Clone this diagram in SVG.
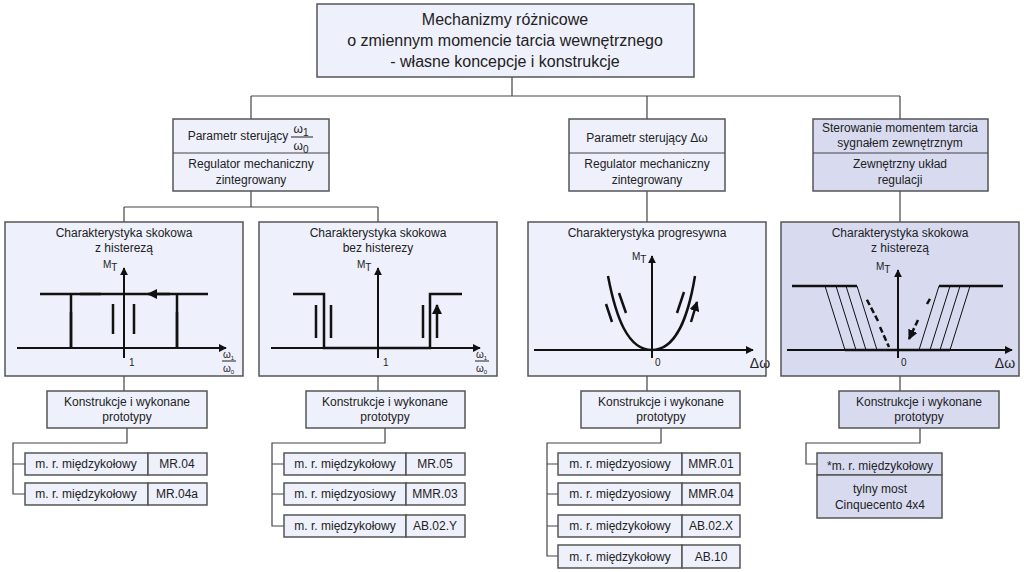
<svg xmlns="http://www.w3.org/2000/svg" width="1024" height="572" viewBox="0 0 1024 572">
<defs>
<style>
.b{fill:#eef0fb;stroke:#555;stroke-width:1.5}
.d{fill:#d8dbf0;stroke:#555;stroke-width:1.5}
.c{fill:none;stroke:#444;stroke-width:1.2}
.t{font-family:"Liberation Sans",Arial,sans-serif;font-size:12px;fill:#222;text-anchor:middle}
.s{font-family:"Liberation Sans",Arial,sans-serif;font-size:10px;fill:#222}
.ax{fill:none;stroke:#111;stroke-width:2;marker-end:url(#ah)}
.k{fill:none;stroke:#111;stroke-width:2.5}
.thin{fill:none;stroke:#111;stroke-width:1}
.ar{fill:none;stroke:#111;stroke-width:2.5;marker-end:url(#ah)}
</style>
<marker id="ah" viewBox="0 0 10 10" refX="9" refY="5" markerWidth="4" markerHeight="4" orient="auto"><path d="M0,0L10,5L0,10z" fill="#111"/></marker>
</defs>
<g id="connectors" class="c">
<path d="M512,77V96M251,96H900M251,96V119M647,96V119M900,96V119"/>
<path d="M251,191V207M124,207H378M124,207V222M378,207V222M647,191V222M900,191V222"/>
<path d="M124,376V391M378,376V391M647,376V391M900,376V391"/>
<path d="M127,428V443H13V494H25M13,464H25"/>
<path d="M385,428V443H272V526H284M272,464H284M272,494H284"/>
<path d="M661,428V443H547V556H558M547,464H558M547,494H558M547,526H558"/>
<path d="M920,428V443H806V464H817"/>
</g>
<g id="title"><rect class="b" x="317" y="4" width="377" height="73"/>
<text class="t" style="font-size:16px" x="505" y="25">Mechanizmy różnicowe</text>
<text class="t" style="font-size:16px" x="505" y="46">o zmiennym momencie tarcia wewnętrznego</text>
<text class="t" style="font-size:16px" x="505" y="67">- własne koncepcje i konstrukcje</text></g>
<g id="boxA"><rect class="b" x="173" y="119" width="156" height="72"/><line class="c" x1="173" y1="153" x2="329" y2="153"/>
<text class="t" x="238" y="140">Parametr sterujący</text>
<text class="t" x="301" y="133">ω<tspan class="s" dy="3">1</tspan></text><line x1="291" y1="137" x2="313" y2="137" stroke="#222"/>
<text class="t" x="301" y="150">ω<tspan class="s" dy="3">0</tspan></text>
<text class="t" x="251" y="168">Regulator mechaniczny</text><text class="t" x="251" y="184">zintegrowany</text></g>
<g id="boxB"><rect class="b" x="569" y="119" width="156" height="72"/><line class="c" x1="569" y1="153" x2="725" y2="153"/>
<text class="t" x="647" y="142">Parametr sterujący Δω</text>
<text class="t" x="647" y="168">Regulator mechaniczny</text><text class="t" x="647" y="184">zintegrowany</text></g>
<g id="boxC"><rect class="d" x="813" y="119" width="175" height="72"/><line class="c" x1="813" y1="153" x2="988" y2="153"/>
<text class="t" x="900" y="132">Sterowanie momentem tarcia</text><text class="t" x="900" y="147">sygnałem zewnętrznym</text>
<text class="t" x="900" y="168">Zewnętrzny układ</text><text class="t" x="900" y="184">regulacji</text></g>
<g id="chart1"><rect class="b" x="5" y="222" width="238" height="154"/>
<text class="t" x="124" y="237">Charakterystyka skokowa</text><text class="t" x="124" y="252">z histerezą</text>
<path class="ax" d="M17,348H226"/><path class="ax" d="M124,358V268"/>
<text class="s" x="103" y="268">M<tspan dy="3">T</tspan></text>
<path class="k" d="M40,294H208M71,294V348M177,294V348"/>
<path class="ar" d="M71,348V312M177,348V312M113,304V334M134,304V334M80,294H101M170,294H148"/>
<text class="s" x="129" y="366">1</text>
<text class="s" x="223" y="358">ω<tspan dy="2" font-size="6">1</tspan></text><line x1="222" y1="361" x2="236" y2="361" stroke="#222"/><text class="s" x="223" y="372">ω<tspan dy="2" font-size="6">0</tspan></text></g>
<g id="chart2"><rect class="b" x="259" y="222" width="238" height="154"/>
<text class="t" x="378" y="237">Charakterystyka skokowa</text><text class="t" x="378" y="252">bez histerezy</text>
<path class="ax" d="M271,348H480"/><path class="ax" d="M378,358V268"/>
<text class="s" x="357" y="268">M<tspan dy="3">T</tspan></text>
<path class="k" d="M293,294H324V348H430V294H462"/>
<path class="ar" d="M316,338V305M331,305V338M423,305V338M437,338V305"/>
<text class="s" x="383" y="366">1</text>
<text class="s" x="476" y="358">ω<tspan dy="2" font-size="6">1</tspan></text><line x1="475" y1="361" x2="489" y2="361" stroke="#222"/><text class="s" x="476" y="372">ω<tspan dy="2" font-size="6">0</tspan></text></g>
<g id="chart3"><rect class="b" x="528" y="222" width="238" height="154"/>
<text class="t" x="647" y="237">Charakterystyka progresywna</text>
<path class="ax" d="M534,350H753"/><path class="ax" d="M652,358V256"/>
<text class="s" x="632" y="260">M<tspan dy="3">T</tspan></text>
<path class="k" d="M608,276C616,318 628,350 652,350C676,350 688,318 695,276"/>
<path class="ar" d="M612,322L606,304M619,293L626,313M684,292L677,313M691,322L697,302"/>
<text class="s" x="655" y="366">0</text><text class="t" style="font-size:14px" x="760" y="368">Δω</text></g>
<g id="chart4"><rect class="d" x="781" y="222" width="238" height="154"/>
<text class="t" x="900" y="237">Charakterystyka skokowa</text><text class="t" x="900" y="252">z histerezą</text>
<path class="ax" d="M787,350H1012"/><path class="ax" d="M898,358V270"/>
<text class="s" x="876" y="270">M<tspan dy="3">T</tspan></text>
<path class="k" d="M792,286H857M939,286H1003M845,350H950"/>
<path class="thin" d="M825,286L845,350M836,286L856,350M846,286L866,350M857,286L877,350M939,286L919,350M950,286L930,350M960,286L940,350M970,286L950,350"/>
<path class="ar" d="M878,321L866,298M880,327L889,347M927,304L931,297M918,320L909,339" stroke-dasharray="6 3"/>
<text class="s" x="901" y="366">0</text><text class="t" style="font-size:14px" x="1005" y="368">Δω</text></g>
<g id="k1"><rect class="b" x="47" y="391" width="160" height="37"/><text class="t" x="127" y="406">Konstrukcje i wykonane</text><text class="t" x="127" y="421">prototypy</text></g>
<g id="k2"><rect class="b" x="306" y="391" width="159" height="37"/><text class="t" x="385" y="406">Konstrukcje i wykonane</text><text class="t" x="385" y="421">prototypy</text></g>
<g id="k3"><rect class="b" x="581" y="391" width="159" height="37"/><text class="t" x="661" y="406">Konstrukcje i wykonane</text><text class="t" x="661" y="421">prototypy</text></g>
<g id="k4"><rect class="d" x="839" y="391" width="160" height="37"/><text class="t" x="919" y="406">Konstrukcje i wykonane</text><text class="t" x="919" y="421">prototypy</text></g>
<g id="g1">
<rect class="b" x="25" y="453" width="123" height="22"/><rect class="b" x="148" y="453" width="59" height="22"/><text class="t" x="86" y="468">m. r. międzykołowy</text><text class="t" x="177" y="468">MR.04</text>
<rect class="b" x="25" y="483" width="123" height="22"/><rect class="b" x="148" y="483" width="59" height="22"/><text class="t" x="86" y="498">m. r. międzykołowy</text><text class="t" x="177" y="498">MR.04a</text></g>
<g id="g2">
<rect class="b" x="284" y="453" width="122" height="22"/><rect class="b" x="406" y="453" width="59" height="22"/><text class="t" x="345" y="468">m. r. międzykołowy</text><text class="t" x="435" y="468">MR.05</text>
<rect class="b" x="284" y="483" width="122" height="22"/><rect class="b" x="406" y="483" width="59" height="22"/><text class="t" x="345" y="498">m. r. międzyosiowy</text><text class="t" x="435" y="498">MMR.03</text>
<rect class="b" x="284" y="515" width="122" height="22"/><rect class="b" x="406" y="515" width="59" height="22"/><text class="t" x="345" y="530">m. r. międzykołowy</text><text class="t" x="435" y="530">AB.02.Y</text></g>
<g id="g3">
<rect class="b" x="558" y="453" width="124" height="22"/><rect class="b" x="682" y="453" width="58" height="22"/><text class="t" x="620" y="468">m. r. międzyosiowy</text><text class="t" x="711" y="468">MMR.01</text>
<rect class="b" x="558" y="483" width="124" height="22"/><rect class="b" x="682" y="483" width="58" height="22"/><text class="t" x="620" y="498">m. r. międzyosiowy</text><text class="t" x="711" y="498">MMR.04</text>
<rect class="b" x="558" y="515" width="124" height="22"/><rect class="b" x="682" y="515" width="58" height="22"/><text class="t" x="620" y="530">m. r. międzykołowy</text><text class="t" x="711" y="530">AB.02.X</text>
<rect class="b" x="558" y="545" width="124" height="23"/><rect class="b" x="682" y="545" width="58" height="23"/><text class="t" x="620" y="561">m. r. międzykołowy</text><text class="t" x="711" y="561">AB.10</text></g>
<g id="g4"><rect class="d" x="817" y="453" width="125" height="22"/><rect class="d" x="817" y="475" width="125" height="43"/>
<text class="t" x="880" y="470">*m. r. międzykołowy</text><text class="t" x="880" y="493">tylny most</text><text class="t" x="880" y="509">Cinquecento 4x4</text></g>
</svg>
